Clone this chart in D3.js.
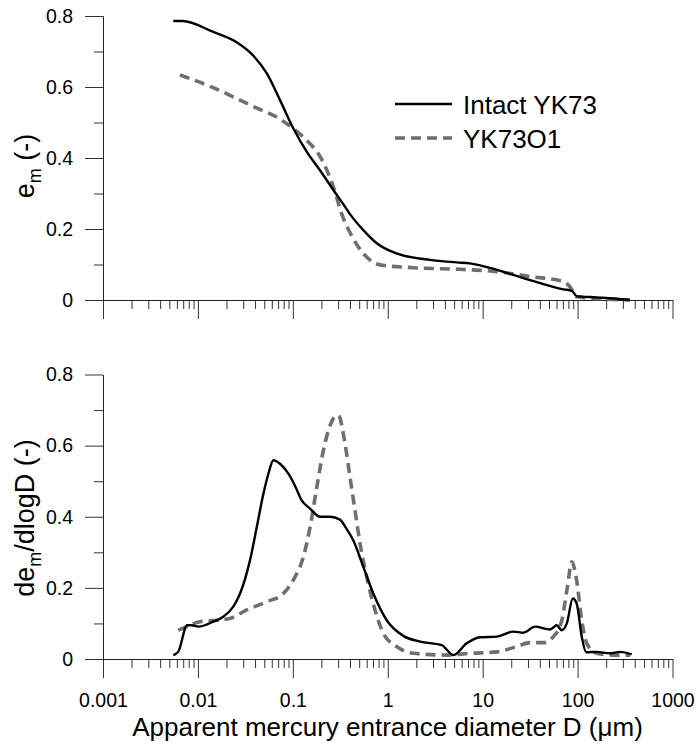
<!DOCTYPE html>
<html>
<head>
<meta charset="utf-8">
<script src="https://cdn.jsdelivr.net/npm/d3@7"></script>
<style>
  body { margin: 0; background: #fff; }
  text { font-family: 'Liberation Sans', Arial, sans-serif; fill: #000; }
</style>
</head>
<body>
<script>
// cumulative intrusion e_m vs D (um)
let intactCumD = [0.0055, 0.0069, 0.0145, 0.0256, 0.0384, 0.053, 0.0733, 0.101, 0.14, 0.2, 0.267, 0.34, 0.4, 0.553, 0.766, 1.24, 2.79, 5.33, 7.36, 14.1, 31.6, 71, 86.9, 97.6, 158, 302, 355]
let intactCumE = [0.786, 0.786, 0.755, 0.726, 0.688, 0.639, 0.563, 0.484, 0.418, 0.36, 0.31, 0.27, 0.242, 0.197, 0.16, 0.131, 0.113, 0.106, 0.103, 0.085, 0.056, 0.03, 0.026, 0.011, 0.0075, 0.002, 0]
let oxCumD = [0.00647, 0.0145, 0.0384, 0.073, 0.101, 0.14, 0.194, 0.267, 0.33, 0.4, 0.553, 0.83, 1.86, 6.27, 14.1, 31.6, 71, 83.4, 97.6, 158, 355]
let oxCumE = [0.634, 0.598, 0.545, 0.51, 0.483, 0.45, 0.404, 0.319, 0.24, 0.19, 0.131, 0.099, 0.091, 0.086, 0.08, 0.066, 0.052, 0.037, 0.009, 0.004, 0]

// pore size distribution de_m/dlogD
let intactPsdD = [0.0055, 0.0062, 0.0077, 0.0086, 0.0101, 0.0145, 0.0185, 0.0236, 0.0278, 0.0354, 0.0417, 0.049, 0.0553, 0.0624, 0.0733, 0.0898, 0.105, 0.124, 0.152, 0.194, 0.247, 0.314, 0.36, 0.433, 0.553, 0.705, 0.975, 1.46, 2.19, 3.7, 4.91, 6.79, 9.38, 14.1, 21.1, 26.9, 35.7, 51.3, 60.3, 68.2, 77, 89, 97.8, 110.6, 123, 158, 220, 280, 372]
let intactPsdV = [0.011, 0.02, 0.095, 0.095, 0.091, 0.105, 0.119, 0.147, 0.184, 0.278, 0.371, 0.465, 0.521, 0.559, 0.549, 0.521, 0.488, 0.446, 0.423, 0.4, 0.4, 0.392, 0.37, 0.334, 0.259, 0.184, 0.109, 0.065, 0.049, 0.039, 0.011, 0.044, 0.061, 0.063, 0.077, 0.074, 0.091, 0.083, 0.095, 0.081, 0.1, 0.17, 0.156, 0.063, 0.019, 0.02, 0.016, 0.02, 0.013]
let oxPsdD = [0.0062, 0.0076, 0.0105, 0.0145, 0.0218, 0.0327, 0.053, 0.0795, 0.101, 0.129, 0.152, 0.179, 0.21, 0.247, 0.29, 0.302, 0.355, 0.4, 0.452, 0.51, 0.6, 0.734, 0.9, 1.24, 1.86, 4.17, 7.36, 14.1, 22.9, 31.6, 43.6, 55.6, 68.2, 78.2, 86.9, 97.6, 110.6, 125, 158, 238, 357]
let oxPsdV = [0.081, 0.091, 0.105, 0.108, 0.114, 0.138, 0.161, 0.184, 0.222, 0.287, 0.371, 0.484, 0.587, 0.657, 0.685, 0.685, 0.605, 0.512, 0.418, 0.325, 0.231, 0.138, 0.072, 0.035, 0.016, 0.011, 0.016, 0.02, 0.035, 0.046, 0.046, 0.063, 0.109, 0.203, 0.273, 0.222, 0.109, 0.044, 0.016, 0.011, 0.011]

let xDecades = [0.001, 0.01, 0.1, 1, 10, 100, 1000]
let xDecadeLabels = ['0.001', '0.01', '0.1', '1', '10', '100', '1000']
let yMajor = [0, 0.2, 0.4, 0.6, 0.8]
let yMinor = [0.1, 0.3, 0.5, 0.7]
let legendNames = ['Intact YK73', 'YK73O1']

let width = 699
let height = 745

let svg = d3.select('body')
  .append('svg')
  .attr('width', width)
  .attr('height', height)

let x = d3.scaleLog().domain([0.001, 1000]).range([103, 672.5])

let xMinor = []
for (let i = 0; i < xDecades.length - 1; i++) {
  for (let k = 2; k <= 9; k++) xMinor.push(xDecades[i] * k)
}

let solid = { stroke: '#000', width: 2.4, dash: null }
let dashed = { stroke: '#6f6f6f', width: 3.6, dash: '10,6' }

function drawPanel(top, bottom, series, showLabels) {
  let y = d3.scaleLinear().domain([0, 0.8]).range([bottom, top])
  let g = svg.append('g')

  // x axis
  g.append('g')
    .attr('transform', 'translate(0,' + bottom + ')')
    .call(d3.axisBottom(x).tickValues(xMinor).tickSize(9).tickSizeOuter(0).tickFormat(''))
  g.append('g')
    .attr('transform', 'translate(0,' + bottom + ')')
    .call(d3.axisBottom(x).tickValues(xDecades).tickSize(19).tickSizeOuter(0).tickPadding(15)
      .tickFormat((d, i) => showLabels ? xDecadeLabels[i] : ''))

  // y axis
  g.append('g')
    .attr('transform', 'translate(103,0)')
    .call(d3.axisLeft(y).tickValues(yMinor).tickSize(9).tickSizeOuter(0).tickFormat(''))
  g.append('g')
    .attr('transform', 'translate(103,0)')
    .call(d3.axisLeft(y).tickValues(yMajor).tickSize(18).tickSizeOuter(0).tickPadding(12)
      .tickFormat(d => d === 0 ? '0' : d3.format('.1f')(d)))

  g.selectAll('.domain').attr('stroke', '#222')
  g.selectAll('.tick line').attr('stroke', '#333')
  g.selectAll('.tick text')
    .style('font-size', '19.5px')
    .style('font-family', "'Liberation Sans', Arial, sans-serif")
    .attr('fill', '#000')

  let line = d3.line()
    .x(d => x(d[0]))
    .y(d => y(d[1]))
    .curve(d3.curveMonotoneX)

  series.forEach(s => {
    g.append('path')
      .datum(d3.zip(s.d, s.v))
      .attr('d', line)
      .attr('fill', 'none')
      .attr('stroke', s.style.stroke)
      .attr('stroke-width', s.style.width)
      .attr('stroke-dasharray', s.style.dash)
      .attr('stroke-linejoin', 'round')
  })
  return y
}

drawPanel(16, 300, [
  { d: oxCumD, v: oxCumE, style: dashed },
  { d: intactCumD, v: intactCumE, style: solid }
], false)

drawPanel(374.5, 659, [
  { d: oxPsdD, v: oxPsdV, style: dashed },
  { d: intactPsdD, v: intactPsdV, style: solid }
], true)

// y titles
let t1 = svg.append('text')
  .attr('transform', 'translate(34,166) rotate(-90)')
  .attr('text-anchor', 'middle')
  .style('font-size', '27px')
t1.append('tspan').text('e')
t1.append('tspan').text('m').style('font-size', '18px').attr('dy', 7)
t1.append('tspan').text(' (-)').attr('dy', -7)

let t2 = svg.append('text')
  .attr('transform', 'translate(34,518) rotate(-90)')
  .attr('text-anchor', 'middle')
  .style('font-size', '27px')
t2.append('tspan').text('de')
t2.append('tspan').text('m').style('font-size', '18px').attr('dy', 7)
t2.append('tspan').text('/dlogD (-)').attr('dy', -7)

// x title
svg.append('text')
  .attr('x', 387.5)
  .attr('y', 736)
  .attr('text-anchor', 'middle')
  .style('font-size', '26px')
  .text('Apparent mercury entrance diameter D (μm)')

// legend
let legend = svg.append('g')
let legendStyles = [solid, dashed]
legendNames.forEach((name, i) => {
  let ly = 104 + i * 34
  legend.append('line')
    .attr('x1', 395).attr('x2', 452)
    .attr('y1', ly).attr('y2', ly)
    .attr('stroke', legendStyles[i].stroke)
    .attr('stroke-width', legendStyles[i].width)
    .attr('stroke-dasharray', legendStyles[i].dash)
  legend.append('text')
    .attr('x', 463)
    .attr('y', ly + 10)
    .style('font-size', '26px')
    .text(name)
})
</script>
</body>
</html>
